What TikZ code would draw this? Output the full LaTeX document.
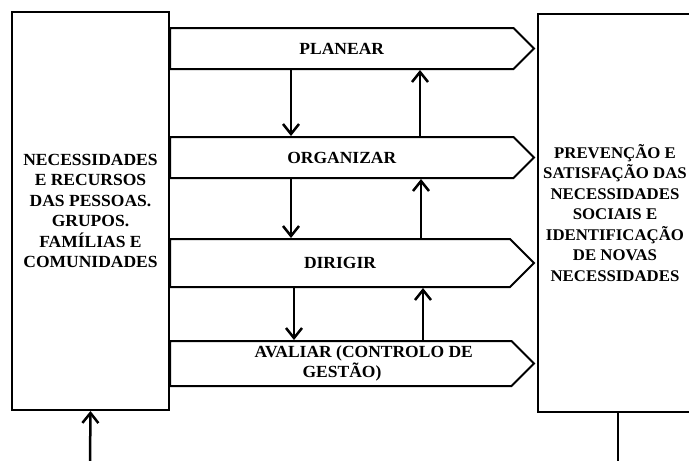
\documentclass[tikz,border=0pt]{standalone}
\usepackage{fontspec}
\setmainfont{Liberation Serif}[FakeStretch=1.03]
\usetikzlibrary{shapes.symbols,arrows.meta}
\begin{document}
\begin{tikzpicture}[x=1pt,y=-1pt,
  caixa/.style={draw,line width=2pt,inner sep=0pt,align=center,font=\bfseries\fontsize{17}{20.5}\selectfont},
  faixa/.style={draw,line width=2pt,shape=signal,signal to=east,signal from=nothing,anchor=west,minimum width=364pt,inner sep=0pt,font=\bfseries\fontsize{17}{20.5}\selectfont},
  seta/.style={line width=2.5pt,-{Straight Barb[length=10pt,width=16pt]}}]
\useasboundingbox (0,0) rectangle (689,461);
\node[caixa,minimum width=157pt,minimum height=398pt] (necess) at (90.5,211) {NECESSIDADES\\E RECURSOS\\DAS PESSOAS.\\GRUPOS.\\FAMÍLIAS E\\COMUNIDADES};
\node[caixa,minimum width=160pt,minimum height=398pt,font=\bfseries\fontsize{16.3}{20.5}\selectfont] (prevenc) at (618,213) {\hspace*{-6pt}PREVENÇÃO E\\\hspace*{-6pt}SATISFAÇÃO DAS\\\hspace*{-6pt}NECESSIDADES\\\hspace*{-6pt}SOCIAIS E\\\hspace*{-6pt}IDENTIFICAÇÃO\\\hspace*{-6pt}DE NOVAS\\\hspace*{-6pt}NECESSIDADES};
\node[faixa,minimum height=41pt] (planear) at (169,48.5) {PLANEAR};
\node[faixa,minimum height=41pt] (organizar) at (169,157.5) {ORGANIZAR};
\node[faixa,minimum height=48pt] (dirigir) at (169,263) {DIRIGIR};
\node[faixa,minimum height=45pt,align=left] (avaliar) at (169,363.5) {\hspace*{46pt}AVALIAR (CONTROLO DE\\\hspace*{94pt}GESTÃO)};
\draw[seta] (planear.south -| 291,0) -- (organizar.north -| 291,0);
\draw[seta] (organizar.south -| 291,0) -- (dirigir.north -| 291,0);
\draw[seta] (dirigir.south -| 294,0) -- (avaliar.north -| 294,0);
\draw[seta] (organizar.north -| 420,0) -- (planear.south -| 420,0);
\draw[seta] (dirigir.north -| 421,0) -- (organizar.south -| 421,0);
\draw[seta] (avaliar.north -| 423,0) -- (dirigir.south -| 423,0);
\coordinate (entrada) at (90,461);
\coordinate (saida) at (618,461);
\draw[seta] (entrada) -- (necess.south);
\draw[line width=2.5pt] (prevenc.south) -- (saida);
\end{tikzpicture}
\end{document}
